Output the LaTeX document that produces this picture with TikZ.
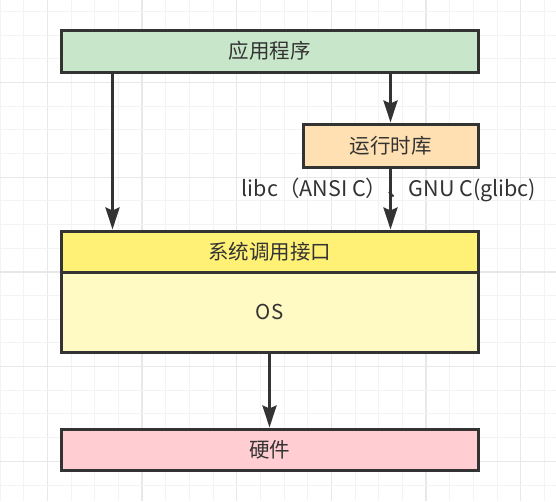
\documentclass[tikz,border=0pt]{standalone}
\usepackage{fontspec}
\setmainfont{Noto Sans CJK SC}
\usepackage{xcolor}
\usepackage{tikz}
\usetikzlibrary{positioning, arrows.meta, calc}
\definecolor{dgtext}{HTML}{333333}
\definecolor{dgline}{HTML}{333333}
\definecolor{dggreen}{HTML}{C8E6C9}
\definecolor{dgorange}{HTML}{FFE0B2}
\definecolor{dgyellow}{HTML}{FFF176}
\definecolor{dglight}{HTML}{FFF9C4}
\definecolor{dgpink}{HTML}{FFCDD2}
\definecolor{dggridmin}{HTML}{F3F3F3}
\definecolor{dggridmaj}{HTML}{E8E8E8}
\tikzset{
  layer/.style={rectangle, draw=dgline, line width=3pt, inner sep=0pt,
                minimum width=417pt, text=dgtext, font=\fontsize{20.5pt}{22pt}\selectfont},
  flow/.style={draw=dgline, line width=3pt,
               -{Stealth[length=22pt, width=14pt, inset=3pt]}},
  gridmin/.style={draw=dggridmin, line width=1pt},
  gridmaj/.style={draw=dggridmaj, line width=1.5pt}
}

\begin{document}
\begin{tikzpicture}[x=1pt, y=-1pt]
  \useasboundingbox (0,0) rectangle (556,501);
  \fill[white] (0,0) rectangle (556,501);
  % background grid
  \foreach \k in {0,...,23} {
    \pgfmathtruncatemacro{\m}{mod(\k,4)}
    \ifnum\m=2 \draw[gridmaj] (\k*23.67,0) -- (\k*23.67,501);
    \else \draw[gridmin] (\k*23.67,0) -- (\k*23.67,501); \fi
  }
  \foreach \k in {0,...,20} {
    \pgfmathtruncatemacro{\m}{mod(\k,4)}
    \ifnum\m=3 \draw[gridmaj] (0,11.6+\k*23.67) -- (556,11.6+\k*23.67);
    \else \draw[gridmin] (0,11.6+\k*23.67) -- (556,11.6+\k*23.67); \fi
  }

  \node[layer, fill=dggreen, minimum height=42pt] (app) at (269.5,51) {应用程序};
  \node[layer, fill=dgorange, minimum width=175pt, minimum height=43pt] (runtime) at (390.5,145.5) {运行时库};
  \node[layer, fill=dglight, minimum height=80pt] (os) at (269.5,312) {OS};
  \node[layer, fill=dgyellow, minimum height=41pt] (syscall) at (269.5,251.5) {系统调用接口};
  \node[layer, fill=dgpink, minimum height=41pt] (hw) at (269.5,449.5) {硬件};

  \draw[flow] ($(app.south west)+(53,0)$) -- ($(syscall.north west)+(53,0)$);
  \draw[flow] (app.south -| runtime) -- (runtime.north);
  \draw[flow] (runtime.south) -- (syscall.north -| runtime);
  \draw[flow] (os.south) -- (hw.north);

  \node[text=dgtext, font=\fontsize{21.5pt}{23pt}\selectfont, inner sep=0pt] (libc) at (389,190)
    {libc（ANSI C）、GNU C(glibc)};
\end{tikzpicture}
\end{document}
